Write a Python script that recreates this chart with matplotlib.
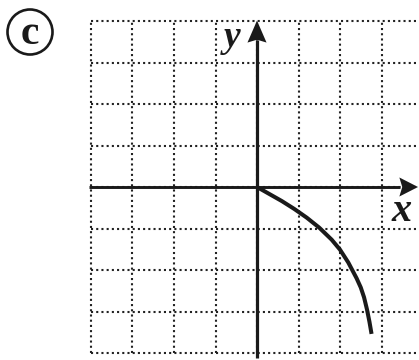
import matplotlib
matplotlib.use("Agg")
import matplotlib.pyplot as plt
from matplotlib.patches import Circle, Polygon

# Curve samples (x, y) in grid units
curve_x = [0.0, 0.3, 0.6, 0.9, 1.2, 1.5, 1.8, 2.0, 2.2, 2.4, 2.5, 2.58, 2.65, 2.71, 2.76]
curve_y = [0.0, -0.17, -0.34, -0.53, -0.74, -0.98, -1.27, -1.51, -1.82, -2.2, -2.42,
           -2.66, -2.95, -3.25, -3.54]

# Grid lines
grid_h = [-4, -3, -2, -1, 0, 1, 2, 3, 4]
grid_v = [-4, -3, -2, -1, 0, 1, 2, 3]

INK = "#1a1a1a"
W, H, DPI = 419, 360, 100
ORIGIN_PX = (257.0, 187.0)
UNIT = 41.5

fig = plt.figure(figsize=(W / DPI, H / DPI), dpi=DPI)
ax = fig.add_axes([0, 0, 1, 1])
ax.set_xlim(-ORIGIN_PX[0] / UNIT, (W - ORIGIN_PX[0]) / UNIT)
ax.set_ylim(-(H - ORIGIN_PX[1]) / UNIT, ORIGIN_PX[1] / UNIT)
ax.set_axis_off()
x_right = (W - ORIGIN_PX[0]) / UNIT

dot_style = dict(color="#222222", lw=1.5, linestyle=(0, (1, 1.5)), dash_capstyle="butt")
for gy in grid_h:
    ax.plot([-4, x_right + 0.2], [gy, gy], **dot_style, zorder=1)
for gx in grid_v:
    ax.plot([gx, gx], [-4, 4], **dot_style, zorder=1)

# Axes with arrowheads
ax.plot([-4.04, 3.45], [0, 0], color=INK, lw=2.1, solid_capstyle="butt", zorder=3)
ax.plot([0, 0], [-4.12, 3.55], color=INK, lw=2.3, solid_capstyle="butt", zorder=3)
hl, hw, notch = 0.45, 0.23, 0.07
ax.add_patch(Polygon([(3.88, 0), (3.88 - hl, hw), (3.88 - hl + notch, 0), (3.88 - hl, -hw)],
                     closed=True, color=INK, lw=0, zorder=4))
ax.add_patch(Polygon([(0, 4.01), (-hw, 4.01 - hl - 0.08), (0, 4.01 - hl - 0.08 + notch),
                      (hw, 4.01 - hl - 0.08)], closed=True, color=INK, lw=0, zorder=4))

# Function curve
ax.plot(curve_x, curve_y, color=INK, lw=2.9, solid_capstyle="butt",
        solid_joinstyle="round", zorder=5)

# Axis labels
lab = dict(family="Liberation Serif", weight="bold", style="italic", color=INK)
ax.text(-0.6, 3.38, "y", fontsize=27, ha="center", va="baseline", **lab, zorder=6)
ax.text(3.49, -0.82, "x", fontsize=29, ha="center", va="baseline", **lab, zorder=6)

# Panel tag
fig.patches.append(Circle((30, H - 32), 22.5, transform=None, fill=False,
                          edgecolor=INK, lw=1.9))
fig.text(30 / W, 1 - 34 / H, "c", fontsize=30, family="Liberation Serif",
         weight="bold", ha="center", va="center", color=INK)

fig.savefig("out.png", dpi=DPI)
